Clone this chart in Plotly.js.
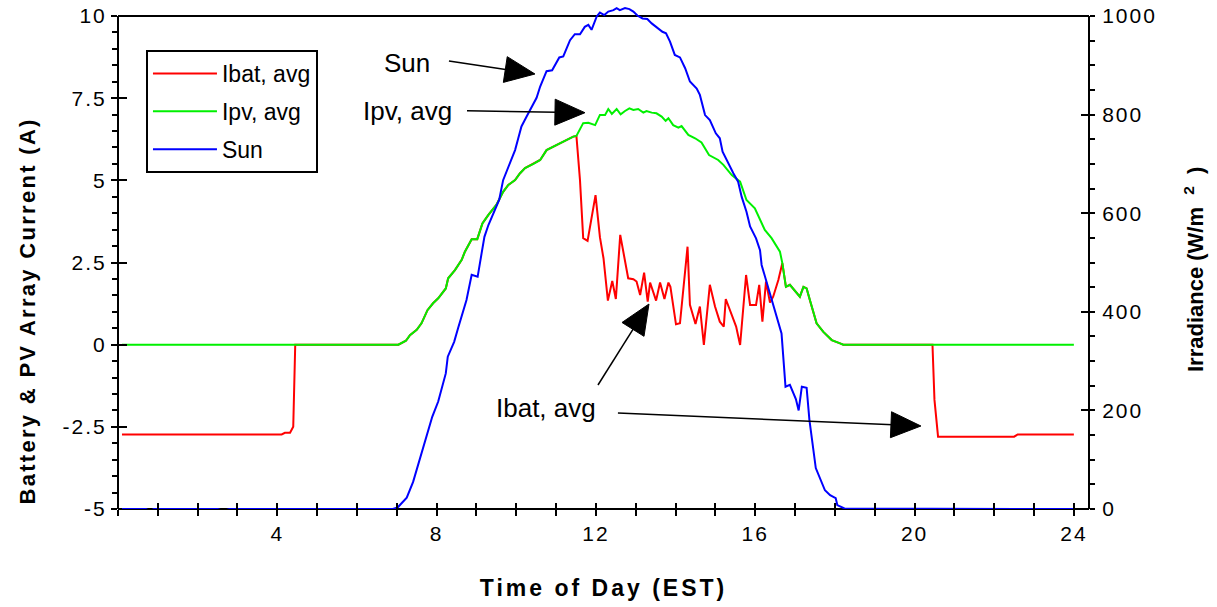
<!DOCTYPE html>
<html><head><meta charset="utf-8">
<script src="https://cdn.plot.ly/plotly-3.0.1.min.js"></script>
<style>
html,body{margin:0;padding:0;background:#fff;}
#chart{width:1217px;height:607px;}
.xtitle{letter-spacing:3px;}
g.xtick text, g.ytick text, g.y2tick text{letter-spacing:2px;}
g.annotation[data-index="3"] text{letter-spacing:2.3px;}
</style></head>
<body><div id="chart"></div>
<script>
// ---- data ----
const sunTime = [0.1,0.7,0.8,0.9,2.5,2.65,2.8,6.9,7.02,7.25,7.41,7.5,7.71,7.79,7.89,8.04,8.17,8.23,8.28,8.44,8.54,8.64,8.75,8.88,9.03,9.13,9.2,9.3,9.47,9.57,9.67,9.8,9.97,10.05,10.13,10.26,10.39,10.51,10.6,10.76,10.9,11.08,11.18,11.35,11.47,11.6,11.72,11.81,11.89,12.02,12.1,12.21,12.31,12.44,12.52,12.6,12.73,12.84,12.94,13.04,13.17,13.29,13.4,13.52,13.67,13.76,13.86,13.98,14.11,14.24,14.36,14.53,14.61,14.74,14.86,15.01,15.11,15.18,15.28,15.45,15.57,15.66,15.78,15.87,16.02,16.12,16.16,16.29,16.41,16.54,16.66,16.76,16.87,17.02,17.09,17.17,17.29,17.36,17.52,17.75,17.88,18.02,18.06,18.24,24.0];
const sunIrr = [0,0,-4,0,0,-4,0,0,3,23,55,79,134,160,187,218,258,275,309,339,367,393,424,475,471,519,552,576,606,627,667,694,728,752,776,796,817,834,857,888,890,916,918,951,963,963,978,982,972,999,1007,1002,1009,1012,1016,1012,1016,1014,1009,1001,995,994,985,977,968,965,948,921,916,894,867,853,840,799,789,762,752,725,708,681,664,633,603,573,549,525,495,458,424,390,356,248,252,223,200,248,246,181,83,38,28,22,8,1,0];

const ipvTime = [0.1,7.04,7.23,7.33,7.5,7.62,7.77,7.91,8.04,8.23,8.29,8.46,8.63,8.71,8.88,9.02,9.15,9.3,9.5,9.67,9.8,9.97,10.09,10.22,10.43,10.6,10.76,10.93,11.14,11.26,11.43,11.51,11.68,11.81,11.98,12.1,12.23,12.31,12.4,12.52,12.62,12.73,12.84,12.94,13.06,13.19,13.27,13.4,13.52,13.65,13.75,13.82,13.94,14.07,14.15,14.32,14.49,14.65,14.84,15.07,15.2,15.41,15.62,15.78,15.99,16.24,16.41,16.62,16.68,16.77,16.87,17.12,17.21,17.29,17.37,17.54,17.71,17.92,18.13,18.21,24.0];
const ipvAvg = [0,0,0.12,0.29,0.45,0.65,1.05,1.26,1.41,1.71,2.02,2.27,2.58,2.83,3.21,3.21,3.69,3.95,4.25,4.65,4.86,5.01,5.21,5.37,5.50,5.62,5.92,6.02,6.15,6.23,6.33,6.35,6.74,6.75,6.68,6.99,6.99,7.17,7.02,7.17,7.01,7.11,7.19,7.14,7.17,7.06,7.11,7.06,7.04,6.94,6.81,6.89,6.68,6.60,6.65,6.38,6.28,6.15,5.77,5.62,5.47,5.16,4.96,4.40,4.15,3.49,3.24,2.83,2.48,1.76,1.82,1.46,1.76,1.71,1.36,0.65,0.39,0.14,0.04,0,0];

const ibatTime = [0.1,4.11,4.19,4.32,4.4,4.45,7.04,7.23,7.33,7.5,7.62,7.77,7.91,8.04,8.23,8.29,8.46,8.63,8.71,8.88,9.02,9.15,9.3,9.5,9.67,9.8,9.97,10.09,10.22,10.43,10.6,10.76,10.93,11.14,11.26,11.43,11.51,11.6,11.68,11.79,11.99,12.1,12.19,12.3,12.41,12.5,12.61,12.81,12.94,13.02,13.11,13.21,13.3,13.36,13.51,13.61,13.72,13.82,13.87,14.01,14.11,14.3,14.36,14.5,14.61,14.71,14.86,14.99,15.11,15.21,15.26,15.41,15.52,15.62,15.77,15.87,16.02,16.1,16.18,16.27,16.37,16.45,16.58,16.68,16.77,16.87,17.12,17.21,17.29,17.37,17.54,17.71,17.92,18.13,18.21,20.45,20.5,20.59,22.5,22.59,24.0];
const ibatAvg = [-2.73,-2.73,-2.68,-2.68,-2.5,0,0,0.12,0.29,0.45,0.65,1.05,1.26,1.41,1.71,2.02,2.27,2.58,2.83,3.21,3.21,3.69,3.95,4.25,4.65,4.86,5.01,5.21,5.37,5.50,5.62,5.92,6.02,6.15,6.23,6.33,6.35,5.0,3.24,3.16,4.55,3.27,2.63,1.34,1.94,1.39,3.34,2.02,1.99,1.92,1.51,2.19,1.31,1.89,1.34,1.89,1.39,1.89,1.76,0.62,0.65,2.98,1.21,0.63,1.16,-0.01,1.82,1.16,0.70,0.55,1.39,0.90,0.55,-0.01,2.12,1.21,1.21,1.82,0.70,1.92,1.28,1.46,1.97,2.48,1.76,1.82,1.46,1.76,1.71,1.36,0.65,0.39,0.14,0.04,0,0,-1.68,-2.80,-2.80,-2.73,-2.73];

const seriesNames = ['Ibat, avg','Ipv, avg','Sun'];
const xTickVals = [4,8,12,16,20,24];
const xTickText = ['4','8','12','16','20','24'];
const yTickVals = [-5,-2.5,0,2.5,5,7.5,10];
const yTickText = ['-5','-2.5','0','2.5','5','7.5','10'];
const y2TickVals = [0,200,400,600,800,1000];
const y2TickText = ['0','200','400','600','800','1000'];

// annotation labels and arrows (tip in data units, tail offset in screen px)
const labelTexts = ['Sun','Ipv, avg','Ibat, avg'];
const labelX = [7.256, 7.281, 10.758];
const labelY = [8.57, 7.11, -1.918];
const arrowTipX = [10.469, 11.725, 13.332, 20.16];
const arrowTipY = [8.235, 7.058, 1.237, -2.475];
const arrowTailDx = [-86, -118, -51, -303];
const arrowTailDy = [-13, -2, 81, -13];

// ---- layout constants ----
const FONT = 'Liberation Sans, Arial, Helvetica, sans-serif';
const X_RANGE = [0, 24.38];
const Y_MIN = -5, Y_FRAME = 10, Y_MAX = 10.3043;
const Y2_MAX = 1000 * (Y_MAX - Y_MIN) / (Y_FRAME - Y_MIN);
const topFrac = (Y_FRAME - Y_MIN) / (Y_MAX - Y_MIN);
const hourTicks = []; for (let h = 0; h <= 24; h++) hourTicks.push(h);

const traces = [
  {x: ibatTime, y: ibatAvg, name: seriesNames[0], type: 'scatter', mode: 'lines',
   line: {color: '#ff0000', width: 2}, legendgroup: 'a', xaxis: 'x', yaxis: 'y'},
  {x: ipvTime, y: ipvAvg, name: seriesNames[1], type: 'scatter', mode: 'lines',
   line: {color: '#00f000', width: 2}, legendgroup: 'b', xaxis: 'x', yaxis: 'y'},
  {x: sunTime, y: sunIrr, name: seriesNames[2], type: 'scatter', mode: 'lines',
   line: {color: '#0000ff', width: 2}, legendgroup: 'c', xaxis: 'x', yaxis: 'y2'},
  {x: [], y: [], xaxis: 'x2', yaxis: 'y3', showlegend: false, hoverinfo: 'skip', type: 'scatter'},
  {x: [], y: [], xaxis: 'x', yaxis: 'y4', showlegend: false, hoverinfo: 'skip', type: 'scatter'}
];

const tickBase = {showgrid: false, zeroline: false, showline: false, tickcolor: '#000', tickwidth: 2,
  tickfont: {family: FONT, size: 21, color: '#000'}};

// frame
const shapes = [
  {type: 'line', xref: 'paper', yref: 'paper', x0: 0, x1: 1, y0: 0, y1: 0, line: {color: '#000', width: 2}, layer: 'below'},
  {type: 'line', xref: 'paper', yref: 'paper', x0: 0, x1: 1, y0: topFrac, y1: topFrac, line: {color: '#000', width: 2}, layer: 'below'},
  {type: 'line', xref: 'paper', yref: 'paper', x0: 0, x1: 0, y0: 0, y1: topFrac, line: {color: '#000', width: 2}, layer: 'below'},
  {type: 'line', xref: 'paper', yref: 'paper', x0: 1, x1: 1, y0: 0, y1: topFrac, line: {color: '#000', width: 2}, layer: 'below'}
];
// arrows: line + filled triangular head, sized in pixels around the tip
const HEAD_L = 30, HEAD_W = 26;
for (let i = 0; i < arrowTipX.length; i++) {
  const dx = arrowTailDx[i], dy = -arrowTailDy[i];       // up-positive pixel offsets
  const len = Math.hypot(dx, dy);
  const ux = -dx / len, uy = -dy / len;                    // direction tail -> tip
  const nx = -uy, ny = ux;
  const bx = -ux * HEAD_L, by = -uy * HEAD_L;              // base centre of head
  const common = {xref: 'x', yref: 'y', xsizemode: 'pixel', ysizemode: 'pixel',
    xanchor: arrowTipX[i], yanchor: arrowTipY[i], layer: 'above'};
  shapes.push(Object.assign({}, common, {type: 'line', x0: dx, y0: dy, x1: bx + ux * 2, y1: by + uy * 2,
    line: {color: '#000', width: 1.5}}));
  shapes.push(Object.assign({}, common, {type: 'path',
    path: `M0,0 L${(bx + nx * HEAD_W / 2).toFixed(2)},${(by + ny * HEAD_W / 2).toFixed(2)} L${(bx - nx * HEAD_W / 2).toFixed(2)},${(by - ny * HEAD_W / 2).toFixed(2)} Z`,
    fillcolor: '#000', line: {color: '#000', width: 1}}));
}

const annotations = labelTexts.map((t, i) => ({xref: 'x', yref: 'y', x: labelX[i], y: labelY[i], text: t,
  showarrow: false, font: {family: FONT, size: 26, color: '#000'}}));
annotations.push(
  {xref: 'paper', yref: 'paper', x: -0.0937, y: 0.3936, xanchor: 'center', yanchor: 'middle', showarrow: false,
    textangle: -90, text: 'Battery & PV Array Current (A)', font: {family: FONT, size: 22, color: '#000', weight: 'bold'}},
  {xref: 'paper', yref: 'paper', x: 1.1081, y: 0.477, xanchor: 'center', yanchor: 'middle', showarrow: false,
    textangle: -90, text: 'Irradiance (W/m  <sup>2</sup>  )', font: {family: FONT, size: 22, color: '#000', weight: 'bold'}}
);

const layout = {
  width: 1217, height: 607,
  margin: {l: 118, r: 128, t: 6, b: 98, pad: 0},
  paper_bgcolor: '#fff', plot_bgcolor: 'rgba(0,0,0,0)',
  showlegend: true,
  legend: {x: 0.0288, y: 0.9125, xanchor: 'left', yanchor: 'top', bgcolor: '#fff',
    bordercolor: '#000', borderwidth: 2, itemwidth: 64, tracegroupgap: 5,
    font: {family: FONT, size: 23, color: '#000'}},
  xaxis: Object.assign({}, tickBase, {range: X_RANGE, tickmode: 'array', tickvals: xTickVals, ticktext: xTickText,
    ticks: 'outside', ticklen: 6, anchor: 'y',
    minor: {dtick: 1, tick0: 0, ticks: 'outside', ticklen: 6, tickwidth: 2, tickcolor: '#000'},
    title: {text: 'Time of Day (EST)', font: {family: FONT, size: 23, color: '#000', weight: 'bold'}, standoff: 35}}),
  xaxis2: Object.assign({}, tickBase, {range: X_RANGE, overlaying: 'x', anchor: 'y', side: 'bottom',
    tickmode: 'array', tickvals: hourTicks, ticks: 'inside', ticklen: 6, showticklabels: false}),
  yaxis: Object.assign({}, tickBase, {range: [Y_MIN, Y_MAX], tickmode: 'array', tickvals: yTickVals, ticktext: yTickText,
    ticks: 'outside', ticklen: 6, anchor: 'x',
    minor: {dtick: 0.5, tick0: 0, ticks: 'outside', ticklen: 5, tickwidth: 2, tickcolor: '#000'}}),
  yaxis3: Object.assign({}, tickBase, {range: [Y_MIN, Y_MAX], overlaying: 'y', side: 'left', anchor: 'x2',
    tickmode: 'array', tickvals: yTickVals, ticks: 'inside', ticklen: 9, showticklabels: false}),
  yaxis2: Object.assign({}, tickBase, {range: [0, Y2_MAX], overlaying: 'y', side: 'right', anchor: 'x',
    tickmode: 'array', tickvals: y2TickVals, ticktext: y2TickText, ticks: 'outside', ticklen: 4, ticklabelstandoff: 4,
    minor: {dtick: 50, tick0: 0, ticks: 'outside', ticklen: 5, tickwidth: 2, tickcolor: '#000'}}),
  yaxis4: Object.assign({}, tickBase, {range: [0, Y2_MAX], overlaying: 'y', side: 'right', anchor: 'x',
    tickmode: 'array', tickvals: y2TickVals, ticks: 'inside', ticklen: 8, showticklabels: false}),
  shapes: shapes,
  annotations: annotations
};

Plotly.newPlot('chart', traces, layout, {staticPlot: true, displayModeBar: false});
</script>
</body></html>
